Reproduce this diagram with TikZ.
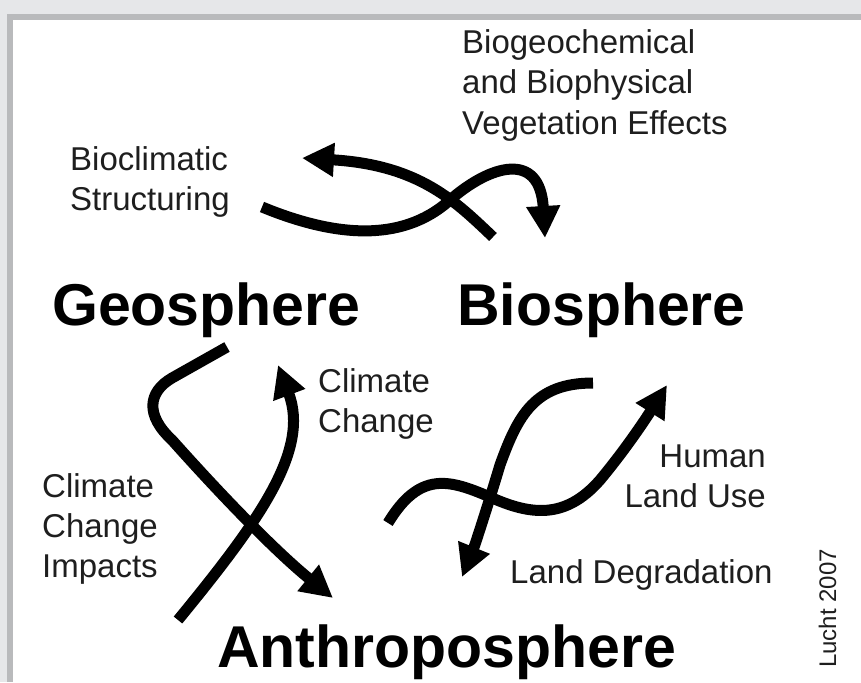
\documentclass[tikz,border=0pt]{standalone}
\usepackage{fontspec}
\setmainfont{Liberation Sans}
\usetikzlibrary{arrows.meta}

\definecolor{pagegray}{HTML}{E6E7E9}
\definecolor{framegray}{HTML}{B9BABC}
\definecolor{inkgray}{HTML}{1E1E1E}

\begin{document}
\begin{tikzpicture}[x=1pt, y=-1pt,
	sphere/.style={font=\fontsize{59}{66}\selectfont\bfseries, inner sep=0pt, anchor=base west, text=black},
	caption/.style={font=\fontsize{33}{40}\selectfont, inner sep=0pt, anchor=base west, align=left, text=inkgray},
	flow/.style={line width=11pt, -{Triangle[length=32pt, width=32pt]}}]
	% Background and frame:
	\useasboundingbox (0, 0) rectangle (861, 682);
	\fill[pagegray] (0, 0) rectangle (861, 682);
	\fill[framegray] (7, 14) rectangle (861, 682);
	\fill[white] (13, 20) rectangle (861, 682);
	% Spheres:
	\node[sphere](geo) at (52, 325){Geosphere};
	\node[sphere](bio) at (457, 325){Biosphere};
	\node[sphere](anthro) at (217, 667){Anthroposphere};
	% Labels (placed at the baseline of their last line):
	\node[caption](vegeff) at (462, 134){Biogeochemical\\and Biophysical\\Vegetation Effects};
	\node[caption](bioclim) at (70, 210){Bioclimatic\\Structuring};
	\node[caption](cc) at (318, 432){Climate\\Change};
	\node[caption](ccimp) at (42, 577){Climate\\Change\\Impacts};
	\node[caption, anchor=base east, align=right](landuse) at (766, 507){Human\\Land Use};
	\node[caption](landdeg) at (510, 583){Land Degradation};
	\node[caption, font=\fontsize{24}{28}\selectfont, rotate=90](credit) at (836, 668){Lucht 2007};
	% Arrow ends:
	\coordinate (vegeff tail) at (262, 207);
	\coordinate (vegeff head) at (545, 238);
	\coordinate (bioclim tail) at (493, 237);
	\coordinate (bioclim head) at (302, 158);
	\coordinate (ccimp tail) at (227, 347);
	\coordinate (ccimp head) at (333, 598);
	\coordinate (cc tail) at (178, 620);
	\coordinate (cc head) at (278, 365);
	\coordinate (landdeg tail) at (593, 383);
	\coordinate (landdeg head) at (462, 577);
	\coordinate (landuse tail) at (388, 523);
	\coordinate (landuse head) at (667, 385);
	% Geosphere <-> Biosphere:
	\draw[flow] (vegeff tail) .. controls (330, 235) and (400, 245) .. (450, 200) .. controls (490, 165) and (540, 150) .. (vegeff head);
	\draw[flow] (bioclim tail) .. controls (456, 202) and (420, 165) .. (bioclim head);
	% Geosphere <-> Anthroposphere:
	\draw[flow] (ccimp tail) -- (172, 378) .. controls (148, 392) and (145, 415) .. (172, 440) .. controls (230, 505) and (280, 555) .. (ccimp head);
	\draw[flow] (cc tail) .. controls (260, 520) and (310, 450) .. (cc head);
	% Biosphere <-> Anthroposphere:
	\draw[flow] (landdeg tail) .. controls (535, 383) and (518, 415) .. (500, 465) .. controls (488, 505) and (475, 545) .. (landdeg head);
	\draw[flow] (landuse tail) .. controls (420, 470) and (450, 480) .. (490, 497) .. controls (530, 515) and (565, 520) .. (600, 480) .. controls (625, 450) and (645, 420) .. (landuse head);
\end{tikzpicture}
\end{document}
